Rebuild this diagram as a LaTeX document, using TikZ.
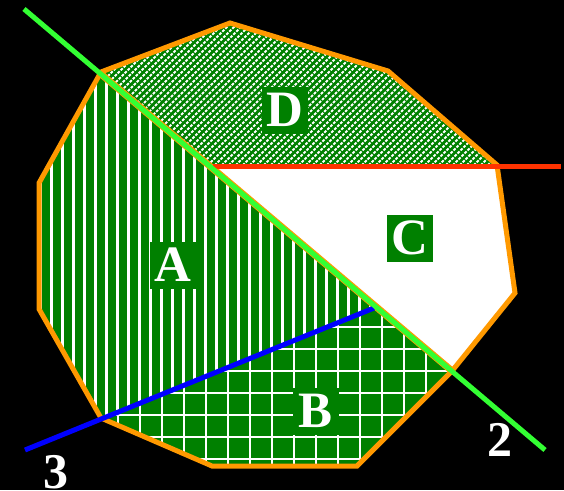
\documentclass[tikz,border=0pt]{standalone}
\usepackage{fontspec}
\setmainfont{Liberation Serif}
\definecolor{regiongreen}{RGB}{0,128,0}
\definecolor{outlineorange}{RGB}{255,153,0}
\definecolor{linegreen}{RGB}{51,255,51}
\definecolor{linered}{RGB}{255,51,0}
\definecolor{lineblue}{RGB}{0,0,255}
\tikzset{
  regionlabel/.style={fill=regiongreen, text=white, inner sep=0pt,
    minimum width=46pt, minimum height=47pt,
    font=\fontsize{51}{51}\selectfont\bfseries},
  numlabel/.style={text=white, inner sep=0pt,
    font=\fontsize{50}{50}\selectfont\bfseries},
  stripe/.style={white, line width=2.3pt},
  gridline/.style={white, line width=2.6pt},
  hatch/.style={white, line width=2pt, dash pattern=on 2.8pt off 1.4pt},
  cutline/.style={line width=5pt}
}
\begin{document}
\begin{tikzpicture}[x=1pt,y=-1pt]
\useasboundingbox (0,0) rectangle (564,490);
\fill[black] (0,0) rectangle (564,490);

\def\poly{(230,23) -- (388,71) -- (497,165) -- (515,293) -- (452,371) -- (357,466) -- (212,466) -- (101,418) -- (39,309) -- (39,183) -- (101,72) -- cycle}

% Region A: left of green, above blue
\begin{scope}
  \clip \poly;
  \clip (0,-11.4) -- (564,467) -- (564,700) -- (0,700) -- cycle;
  \clip (0,460) -- (564,231) -- (564,-100) -- (0,-100) -- cycle;
  \fill[regiongreen] (0,0) rectangle (564,490);
  \foreach \x in {7.5,18.5,...,560} { \draw[stripe] (\x,0) -- (\x,490); }
\end{scope}

% Region B: left of green, below blue
\begin{scope}
  \clip \poly;
  \clip (0,-11.4) -- (564,467) -- (564,700) -- (0,700) -- cycle;
  \clip (0,460) -- (564,231) -- (564,700) -- (0,700) -- cycle;
  \fill[regiongreen] (0,0) rectangle (564,490);
  \foreach \x in {8,30,...,560} { \draw[gridline] (\x,0) -- (\x,490); }
  \foreach \y in {173,195,...,490} { \draw[gridline] (0,\y) -- (564,\y); }
\end{scope}

% Region C: right of green, below red
\begin{scope}
  \clip \poly;
  \clip (0,-11.4) -- (564,467) -- (564,-100) -- (0,-100) -- cycle;
  \fill[white] (0,165) rectangle (564,490);
\end{scope}

% Region D: right of green, above red
\begin{scope}
  \clip \poly;
  \clip (0,-11.4) -- (564,467) -- (564,-100) -- (0,-100) -- cycle;
  \clip (0,0) rectangle (564,165);
  \fill[regiongreen] (0,0) rectangle (564,165);
  \foreach \c in {100,107,...,720} { \draw[hatch] (\c,0) -- (\c-200,200); }
\end{scope}

% outline
\draw[outlineorange, line width=5pt, line join=miter] \poly;

% coordinates for the cutting lines
\coordinate (g1) at (24,9);
\coordinate (g2) at (545,450);
\coordinate (ge1) at (101,74);
\coordinate (ge2) at (452,371);
\coordinate (b1) at (25,450);
\coordinate (b2) at (374,308);
\coordinate (r1) at (213,166);
\coordinate (r2) at (561,166);

\draw[outlineorange, line width=7pt] (ge1) -- (ge2);
\draw[cutline, linered] (r1) -- (r2);
\draw[cutline, lineblue] (b1) -- (b2);
\draw[cutline, linegreen] (g1) -- (g2);

% labels
\node[regionlabel] (labD) at (285,110) {D};
\node[regionlabel] (labC) at (410,238) {C};
\node[regionlabel] (labA) at (173,265) {A};
\node[regionlabel] (labB) at (316,411) {B};
\node[numlabel] (lab3) at (56,472) {3};
\node[numlabel] (lab2) at (500,440) {2};
\end{tikzpicture}
\end{document}
